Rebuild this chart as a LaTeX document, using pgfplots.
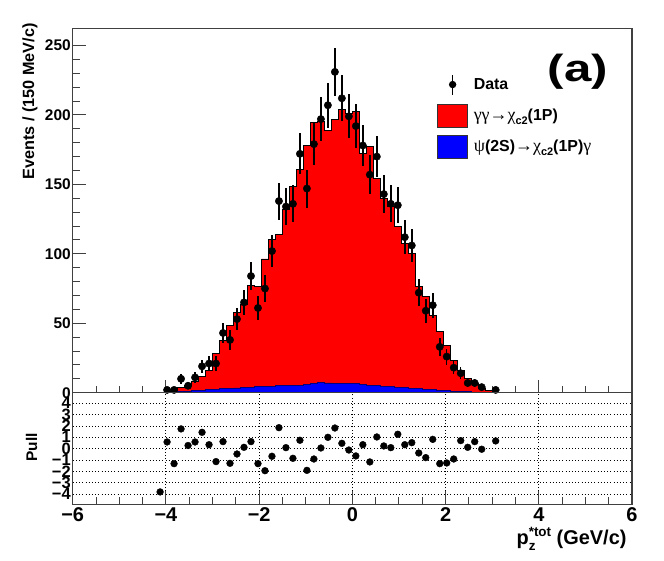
\documentclass[border=0pt]{standalone}
\usepackage{pgfplots}
\pgfplotsset{compat=1.18}
\usepackage{pgfplotstable}
\usepackage{fontspec}
\setmainfont{Liberation Sans}
\newfontfamily\symf{Liberation Serif}
\newcommand{\fs}[1]{\fontsize{#1}{#1}\selectfont\bfseries}
\newcommand{\gr}[1]{{\symf\mdseries\fontsize{18}{18}\selectfont #1}}

\pgfplotstableread{
x tot blue
-4.2 0.2 0.2
-4.05 0.5 0.3
-3.9 1.2 0.5
-3.75 3.6 0.8
-3.6 5.5 1.0
-3.45 8.4 1.3
-3.3 12 1.6
-3.15 16.3 2.0
-3.0 28.3 2.4
-2.85 37.9 2.8
-2.7 48.7 3.1
-2.55 57.8 3.4
-2.4 63.6 3.7
-2.25 77.5 4.0
-2.1 76.3 4.3
-1.95 96.3 4.5
-1.8 110 4.8
-1.65 114 5.0
-1.5 132.3 5.0
-1.35 148.8 5.1
-1.2 161 5.3
-1.05 177.8 6.0
-0.9 194.7 6.8
-0.75 195.6 7.2
-0.6 188.6 7.0
-0.45 197 6.6
-0.3 204 6.4
-0.15 201 6.3
0 202.8 6.5
0.15 172 6.0
0.3 177 5.4
0.45 154 5.0
0.6 140 4.8
0.75 134 4.5
0.9 119.5 4.0
1.05 107.5 3.7
1.2 100.3 3.3
1.35 76.3 2.9
1.5 69.1 2.5
1.65 55.9 2.1
1.8 43.9 1.8
1.95 34.3 1.5
2.1 23.5 1.2
2.25 16.3 0.9
2.4 10.4 0.6
2.55 6.3 0.4
2.7 3.2 0.3
2.85 1.5 0.2
3.0 0.5 0.1
3.15 0 0
}\hist

\pgfplotstableread{
x y e
-3.975 2 1.6
-3.825 2 1.6
-3.675 10 3.6
-3.525 5 2.5
-3.375 11 3.75
-3.225 19 4.9
-3.075 21 5.2
-2.925 21 5.2
-2.775 43 7.4
-2.625 38 7.0
-2.475 53 8.2
-2.325 65 9.1
-2.175 84 10.4
-2.025 61 8.8
-1.875 75 9.8
-1.725 102 11.4
-1.575 138 13.3
-1.425 134 13.1
-1.275 136 13.2
-1.125 172 14.8
-0.975 147 13.7
-0.825 179 15.1
-0.675 197 15.9
-0.525 207 16.3
-0.375 231 17.2
-0.225 212 16.5
-0.075 199 15.9
0.075 192 15.7
0.225 178 15.1
0.375 157 14.2
0.525 170 14.7
0.675 143 13.5
0.825 136 13.2
0.975 135 13.1
1.125 112 12.0
1.275 106 11.6
1.425 72 9.6
1.575 59 8.7
1.725 63 9.0
1.875 33 6.5
2.025 26 5.8
2.175 18 4.8
2.325 14 4.2
2.475 7 3.0
2.625 7 3.0
2.775 4 2.3
3.075 2 1.6
}\data

\pgfplotstableread{
x p
-4.125 -3.81
-3.975 0.59
-3.825 -1.32
-3.675 1.74
-3.525 0.28
-3.375 0.59
-3.225 1.44
-3.075 0.35
-2.925 -1.14
-2.775 0.62
-2.625 -1.29
-2.475 -0.47
-2.325 0.12
-2.175 0.62
-2.025 -1.32
-1.875 -1.94
-1.725 -0.67
-1.575 1.85
-1.425 0.09
-1.275 -0.85
-1.125 0.74
-0.975 -1.91
-0.825 -0.91
-0.675 0.06
-0.525 1.00
-0.375 1.82
-0.225 0.47
-0.075 -0.12
0.075 -0.64
0.225 0.35
0.375 -1.17
0.525 1.03
0.675 0.24
0.825 0.09
0.975 1.27
1.125 0.35
1.275 0.53
1.425 -0.38
1.575 -0.79
1.725 0.82
1.875 -1.32
2.025 -1.26
2.175 -0.91
2.325 0.71
2.475 0.12
2.625 0.62
2.775 -0.05
3.075 0.68
}\pull

\begin{document}
\begin{tikzpicture}[x=1bp,y=1bp]
\useasboundingbox (0,0) rectangle (664,561);
\coordinate (TOPSW) at (72.7,168.3);
\coordinate (BOTSW) at (72.7,56.7);
\begin{axis}[
  at={(TOPSW)}, anchor=south west,
  scale only axis, width=559.3bp, height=364.4bp,
  xmin=-6, xmax=6, ymin=0, ymax=262.4,
  xtick={-6,-4,-2,0,2,4,6}, minor x tick num=3, xticklabel=\empty,
  ytick={0,50,100,150,200,250}, minor y tick num=4,
  yticklabels={0,50,100,150,200,250},
  tick align=inside, tick pos=left,
  major tick length=13bp, minor tick length=7bp,
  axis line style={black!75, line width=1.2bp},
  every tick/.append style={black!75, line width=1bp},
  yticklabel style={font=\fs{15.5}, xshift=1.5bp},
  legend style={draw=none, fill=none, at={(axis cs:1.822,230.3)}, anchor=north west,
    inner sep=0pt, row sep=7.5bp, font=\fs{16}, nodes={inner sep=0pt}},
  legend cell align=left,
  /tikz/every odd column/.append style={column sep=6bp},
]
\addlegendimage{legend image code/.code={\path[draw=none,fill=none] (0,-11.5bp) rectangle (29.5bp,11.5bp);
  \draw[draw=black, line width=1.5bp] (14.75bp,-10bp)--(14.75bp,10bp);
  \fill[fill=black, draw=none] (14.75bp,0) circle (3.7bp);}}
\addlegendentry{Data}
\addlegendimage{legend image code/.code={\draw[fill=red, draw=black!80, line width=0.8bp] (0,-11.5bp) rectangle (29.5bp,11.5bp);}}
\addlegendentry{\gr{γγ→χ}\raisebox{-4bp}{\fs{11}c2}(1P)}
\addlegendimage{legend image code/.code={\draw[fill=blue, draw=black!80, line width=0.8bp] (0,-11.5bp) rectangle (29.5bp,11.5bp);}}
\addlegendentry{\gr{ψ}(2S)\gr{→χ}\raisebox{-4bp}{\fs{11}c2}(1P)\gr{γ}}

\addplot[const plot mark left, fill=red, draw=black, line width=0.9bp, forget plot] table[x=x,y=tot]{\hist} \closedcycle;
\addplot[const plot mark left, fill=blue, draw=blue!50!black, line width=0.9bp, forget plot] table[x=x,y=blue]{\hist} \closedcycle;
\addplot[only marks, mark=*, mark size=3.7bp, black, forget plot,
  error bars/.cd, y dir=both, y explicit, error mark=none,
  error bar style={line width=1.5bp, black}] table[x=x,y=y,y error=e]{\data};
\end{axis}

\begin{axis}[
  at={(BOTSW)}, anchor=south west,
  scale only axis, width=559.3bp, height=111.6bp,
  xmin=-6, xmax=6, ymin=-4.9, ymax=4.93,
  xtick={-6,-4,-2,0,2,4,6}, minor x tick num=3,
  xticklabels={−6,−4,−2,0,2,4,6},
  ytick={-4,-3,-2,-1,0,1,2,3,4},
  yticklabels={−4,−3,−2,−1,0,1,2,3,4},
  tick align=inside, tick pos=left,
  major tick length=13bp, minor tick length=7bp,
  axis line style={black!75, line width=1.2bp},
  every tick/.append style={black!75, line width=1bp},
  ytick style={draw=none},
  grid=major, grid style={black, line width=0.9bp, dash pattern=on 1bp off 2.2bp},
  xticklabel style={font=\fs{20}},
  yticklabel style={font=\fs{16.5}, xshift=1.5bp},
]
\addplot[only marks, mark=*, mark size=3.4bp, black] table[x=x,y=p]{\pull};
\end{axis}

\node[rotate=90, anchor=east, font=\fs{16.3}] at (30,541) {Events / (150 MeV/c)};
\node[rotate=90, font=\fs{15.5}] at (31.5,113.5) {Pull};
\node[anchor=base east, font=\fs{20}] at (630,16) {p\rlap{\raisebox{-6bp}{\fs{13.5}z}}\raisebox{8.5bp}{\fs{13.5}*tot} (GeV/c)};
\node at (578,489) {\scalebox{1.3}[1]{\fs{38}(a)}};
\end{tikzpicture}
\end{document}
